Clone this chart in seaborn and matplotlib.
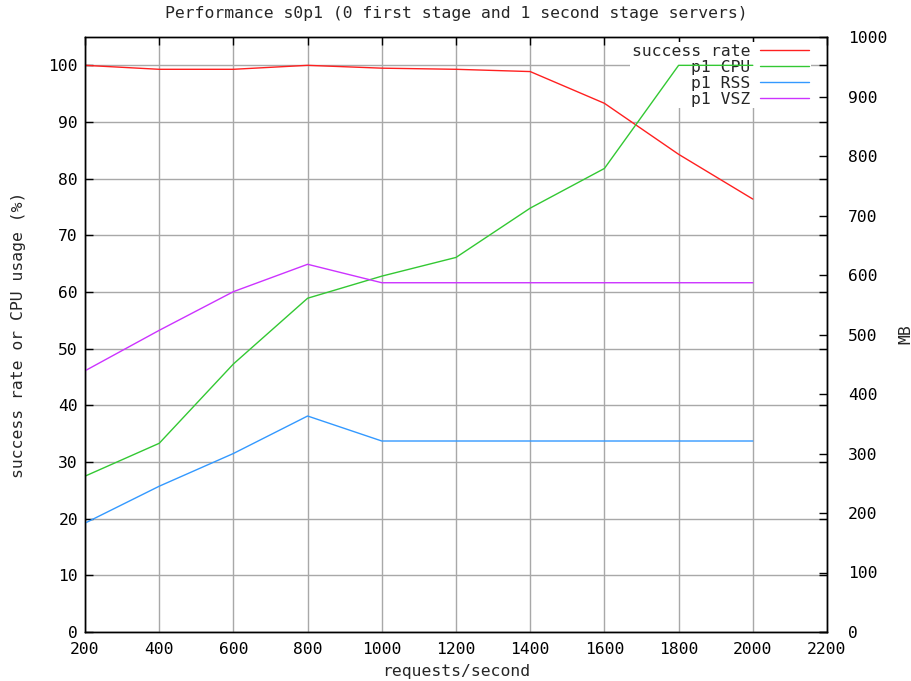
import pandas as pd
import matplotlib
matplotlib.use("Agg")
import matplotlib.pyplot as plt
import seaborn as sns

# valores (gnuplot)
requests = [200, 400, 600, 800, 1000, 1200, 1400, 1600, 1800, 2000]
success_rate = [100.0, 99.3, 99.3, 100.0, 99.5, 99.3, 98.9, 93.3, 84.3, 76.4]
cpu = [27.5, 33.3, 47.3, 58.9, 62.8, 66.1, 74.8, 81.8, 100.0, 100.0]
rss_mb = [183, 245, 300, 363, 321, 321, 321, 321, 321, 321]
vsz_mb = [439, 507, 572, 618, 587, 587, 587, 587, 587, 587]

x_ticks = [200, 400, 600, 800, 1000, 1200, 1400, 1600, 1800, 2000, 2200]
y1_ticks = [0, 10, 20, 30, 40, 50, 60, 70, 80, 90, 100]
y2_ticks = [0, 100, 200, 300, 400, 500, 600, 700, 800, 900, 1000]

sns.set_style("white")
plt.rcParams["font.family"] = ["DejaVu Sans Mono"]
FS = 11.8
plt.rcParams["font.size"] = FS

df = pd.DataFrame({"req": requests, "success": success_rate, "cpu": cpu,
                   "rss": rss_mb, "vsz": vsz_mb})

fig = plt.figure(figsize=(9.12, 6.81), dpi=100)
ax = fig.add_axes([85 / 912, 1 - 632 / 681, (827 - 85) / 912, (632 - 37) / 681])
ax2 = ax.twinx()

sns.lineplot(data=df, x="req", y="success", ax=ax, color="#ff2020", lw=1, label="success rate")
sns.lineplot(data=df, x="req", y="cpu", ax=ax, color="#33c833", lw=1, label="p1 CPU")
sns.lineplot(data=df, x="req", y="rss", ax=ax2, color="#3399ff", lw=1, label="p1 RSS")
sns.lineplot(data=df, x="req", y="vsz", ax=ax2, color="#cc33ff", lw=1, label="p1 VSZ")

ax.set_xlim(200, 2200)
ax.set_ylim(0, 105)
ax2.set_ylim(0, 1000)
ax.set_xticks(x_ticks)
ax.set_yticks(y1_ticks)
ax2.set_yticks(y2_ticks)

ax.set_axisbelow(True)
ax.grid(True, color="#a8a8a8", lw=1)
for a in (ax, ax2):
    for s in a.spines.values():
        s.set_color("black")
        s.set_linewidth(1)

ax.tick_params(direction="in", length=6, width=1, top=True, right=True,
               labelright=False, pad=5, colors="black", labelsize=FS)
ax.tick_params(axis="x", pad=7)
ax2.tick_params(direction="in", length=6, width=1, pad=15, colors="black", labelsize=FS)

ax.set_title("Performance s0p1 (0 first stage and 1 second stage servers)",
             fontsize=FS, pad=14)
ax.set_xlabel("requests/second", fontsize=FS, labelpad=5)
ax.set_ylabel("success rate or CPU usage (%)", fontsize=FS, labelpad=16)
ax2.set_ylabel("MB", fontsize=FS, labelpad=8)

# legenda em cima da grade mas abaixo das linhas
h1, l1 = ax.get_legend_handles_labels()
h2, l2 = ax2.get_legend_handles_labels()
if ax2.get_legend():
    ax2.get_legend().remove()
leg = ax.legend(h1 + h2, l1 + l2, loc="upper right", bbox_to_anchor=(1 - 11 / 742, 1),
                markerfirst=False, frameon=True, framealpha=1, edgecolor="none",
                facecolor="white", fancybox=False, borderpad=0.1, labelspacing=0.06,
                handlelength=3, handletextpad=0.6, borderaxespad=0.3, fontsize=FS)
leg.set_zorder(1.5)

fig.savefig("out.png", dpi=100)
